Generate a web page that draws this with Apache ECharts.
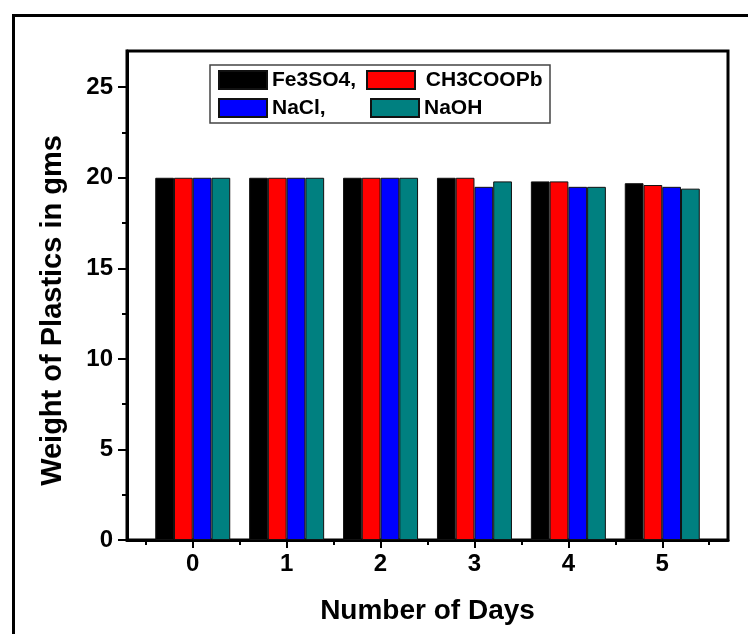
<!DOCTYPE html>
<html>
<head>
<meta charset="utf-8">
<script src="https://cdn.jsdelivr.net/npm/echarts@6/dist/echarts.min.js"></script>
<style>
html,body{margin:0;padding:0;background:#fff;}
#chart{width:748px;height:634px;}
</style>
</head>
<body>
<div id="chart"></div>
<script>
// days on x, weights (gms) per solution
var days = [0, 1, 2, 3, 4, 5];
var seriesNames = ['Fe3SO4', 'CH3COOPb', 'NaCl', 'NaOH'];
var legendLabels = ['Fe3SO4,', ' CH3COOPb', 'NaCl,', 'NaOH'];
var fe3so4 = [20, 20, 20, 20, 19.8, 19.7];
var ch3coopb = [20, 20, 20, 20, 19.8, 19.6];
var nacl = [20, 20, 20, 19.5, 19.5, 19.5];
var naoh = [20, 20, 20, 19.8, 19.5, 19.4];
var colors = ['#000000', '#ff0000', '#0000ff', '#008080'];
var yTicks = [0, 5, 10, 15, 20, 25];
var yMinorTicks = [2.5, 7.5, 12.5, 17.5, 22.5];
var xMinorTicks = [-0.5, 0.5, 1.5, 2.5, 3.5, 4.5, 5.5];

var font = '"Liberation Sans", Arial, sans-serif';
var myChart = echarts.init(document.getElementById('chart'));

function toPairs(vals){
	var arr = [];
	for(var i=0;i<days.length;i++){
		arr.push([days[i], vals[i]]);
	}
	return arr;
}

var allValues = [fe3so4, ch3coopb, nacl, naoh];
var seriesArr = [];
for(var i=0;i<seriesNames.length;i++){
	seriesArr.push({
		name: seriesNames[i],
		type: 'bar',
		barWidth: 18.75,
		barGap: '0%',
		itemStyle: {color: colors[i], borderColor: '#111', borderWidth: 1},
		data: toPairs(allValues[i])
	});
}

// one legend per entry so the two columns line up like the original
var legendPos = [[218, 69], [366, 69], [218, 97], [370, 97]];
var legends = [];
for(var j=0;j<seriesNames.length;j++){
	legends.push({
		data: [seriesNames[j]],
		left: legendPos[j][0],
		top: legendPos[j][1],
		padding: 0,
		icon: 'rect',
		itemWidth: 48,
		itemHeight: 18,
		selectedMode: false,
		formatter: (function(k){ return function(){ return legendLabels[k]; }; })(j),
		textStyle: {fontFamily: font, fontWeight: 'bold', fontSize: 21, lineHeight: 22, color: '#000'}
	});
}

var option = {
	animation: false,
	color: colors,
	grid: {
		left: 127, right: 20, top: 51, bottom: 94,
		show: true, borderColor: '#000', borderWidth: 3
	},
	legend: legends,
	graphic: [
		{type: 'rect', shape: {x: 13.5, y: 15.5, width: 800, height: 700}, style: {fill: 'none', stroke: '#000', lineWidth: 3}, z: -1},
		{type: 'rect', shape: {x: 210, y: 65, width: 340, height: 58}, style: {fill: '#fff', stroke: '#444', lineWidth: 1.5}, z: 0}
	],
	xAxis: [{
		type: 'value',
		min: -0.7,
		max: 5.7,
		name: 'Number of Days',
		nameLocation: 'middle',
		nameGap: 57,
		nameTextStyle: {fontFamily: font, fontWeight: 'bold', fontSize: 28, color: '#000'},
		axisLine: {show: true, onZero: false, lineStyle: {color: '#000', width: 3}},
		axisTick: {show: true, customValues: days, length: 8, lineStyle: {color: '#000', width: 2}},
		axisLabel: {customValues: days, margin: 12, fontFamily: font, fontWeight: 'bold', fontSize: 24, color: '#000'},
		splitLine: {show: false}
	}, {
		type: 'value',
		position: 'bottom',
		min: -0.7,
		max: 5.7,
		axisLine: {show: false, onZero: false},
		axisTick: {show: true, customValues: xMinorTicks, length: 5, lineStyle: {color: '#000', width: 2}},
		axisLabel: {show: false},
		splitLine: {show: false}
	}],
	yAxis: [{
		type: 'value',
		min: 0,
		max: 27,
		name: 'Weight of Plastics in gms',
		nameLocation: 'middle',
		nameGap: 60,
		nameTextStyle: {fontFamily: font, fontWeight: 'bold', fontSize: 29, color: '#000', padding: [0, 30, 0, 0]},
		axisLine: {show: true, onZero: false, lineStyle: {color: '#000', width: 3}},
		axisTick: {show: true, customValues: yTicks, length: 9, lineStyle: {color: '#000', width: 2}},
		axisLabel: {customValues: yTicks, margin: 14, fontFamily: font, fontWeight: 'bold', fontSize: 24, color: '#000'},
		splitLine: {show: false}
	}, {
		type: 'value',
		position: 'left',
		min: 0,
		max: 27,
		axisLine: {show: false, onZero: false},
		axisTick: {show: true, customValues: yMinorTicks, length: 5, lineStyle: {color: '#000', width: 2}},
		axisLabel: {show: false},
		splitLine: {show: false}
	}],
	series: seriesArr
};
myChart.setOption(option, true);
</script>
</body>
</html>
